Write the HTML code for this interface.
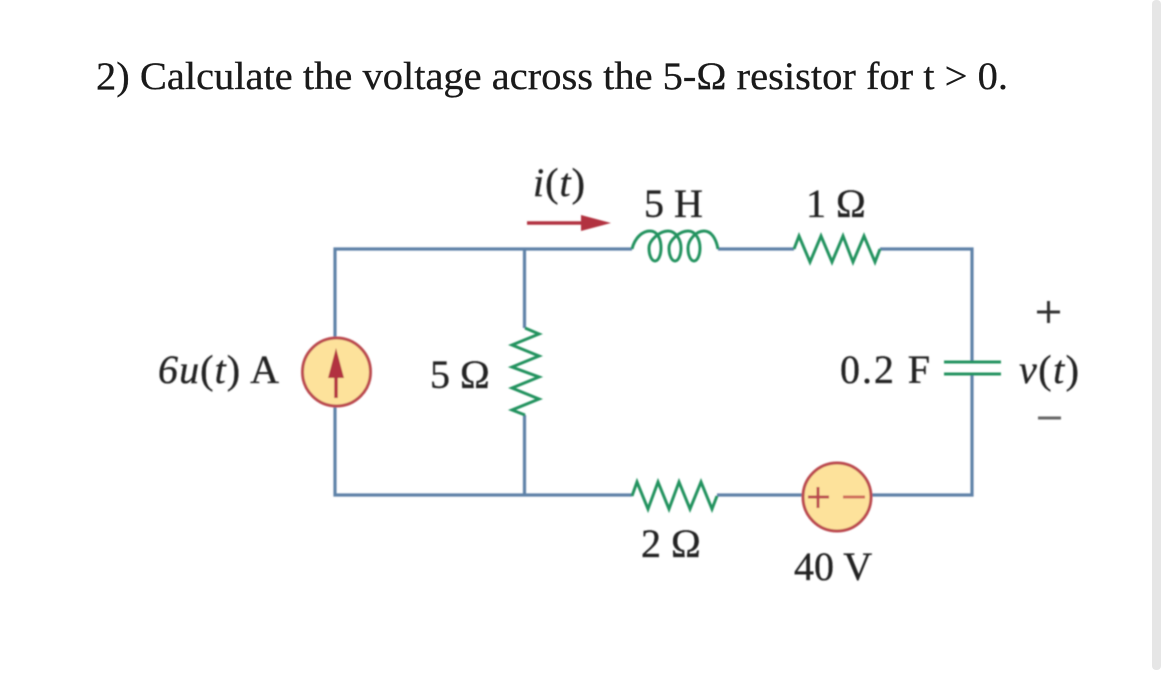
<!DOCTYPE html>
<html><head><meta charset="utf-8"><style>
html,body{margin:0;padding:0;background:#fff;width:1170px;height:684px;overflow:hidden}
svg{display:block}
text{font-family:"Liberation Serif",serif;fill:#222;stroke:#222;stroke-width:.35}
</style></head><body>
<svg width="1170" height="684" viewBox="0 0 1170 684" xmlns="http://www.w3.org/2000/svg">
<defs><filter id="b" x="-5%" y="-5%" width="110%" height="110%"><feGaussianBlur stdDeviation="0.7"/></filter></defs>
<rect x="1152" y="0" width="9" height="670" rx="4" fill="#e6e6e6"/>
<text x="96" y="89" font-size="39" style="fill:#1a1a1a;stroke:#1a1a1a;stroke-width:.3" textLength="912" lengthAdjust="spacingAndGlyphs">2) Calculate the voltage across the 5-Ω resistor for t &gt; 0.</text>
<g filter="url(#b)">
<g fill="none" stroke="#5f82a8" stroke-width="3.200">
<path d="M335 340V249H632M718 249H794M880 249H972V362M972 374V495H872M802 495H717M632 495H335V405M524.500 249V328M524.500 415V495"/>
</g>
<g fill="none" stroke="#23935f" stroke-width="3" stroke-linejoin="miter">
<path d="M525 328L539 334L512 345L539 356L512 367L539 377L512 388L539 399L512 410L525 415"/>
<path d="M794 249L799 236L810 262L821 236L832 262L843 236L853 262L864 236L875 262L880 249"/>
<path d="M632 496L637 482L648 509L658 482L669 509L679 482L690 509L701 482L712 509L717 496"/>
<path d="M632 249C635 237 643 231 650 231C658 231 661 240 661 248C661 256 658 261 655 261C652 261 649 256 649 248C649 240 660 231 668 231C676 231 681 240 681 248C681 256 678 261 675 261C672 261 669 256 669 248C669 240 680 231 688 231C696 231 700 240 700 248C700 256 697 261 694 261C691 261 688 256 688 248C688 240 696 231 704 231C711 231 716 238 718 249"/>
<path d="M944 362H1001M944 374H1001"/>
</g>
<path d="M527 223H583" stroke="#b2333f" stroke-width="3.500"/>
<path d="M581 215L611 223L581 231Z" fill="#b2333f"/>
<circle cx="336.500" cy="372" r="34" fill="#fde29b" stroke="#bb4a50" stroke-width="3"/>
<path d="M336 398V372" stroke="#b2333f" stroke-width="3.500"/>
<path d="M336 348L344 378H328Z" fill="#b2333f"/>
<circle cx="837" cy="497" r="34" fill="#fde29b" stroke="#bb4a50" stroke-width="3"/>
<path d="M808 497H829M818 487V508" stroke="#bb4a50" stroke-width="3"/>
<path d="M843 497H865" stroke="#cf6a5a" stroke-width="3"/>
<g font-size="40">
<text x="644" y="217">5 H</text>
<text x="806" y="217">1 Ω</text>
<text x="430" y="388">5 Ω</text>
<text x="641" y="557">2 Ω</text>
<text x="794" y="580">40 V</text>
<text x="840" y="383" textLength="90">0.2 F</text>
<text x="158" y="383" textLength="121"><tspan font-style="italic">6u</tspan>(<tspan font-style="italic">t</tspan>) A</text>
<text x="533" y="196" textLength="52"><tspan font-style="italic">i</tspan>(<tspan font-style="italic">t</tspan>)</text>
<text x="1019" y="383" textLength="60"><tspan font-style="italic">v</tspan>(<tspan font-style="italic">t</tspan>)</text>
</g>
<path d="M1037 312H1060M1048.500 301V323" stroke="#333" stroke-width="3"/>
<path d="M1038 418H1061" stroke="#666" stroke-width="3"/>
</g>
</svg>
</body></html>
